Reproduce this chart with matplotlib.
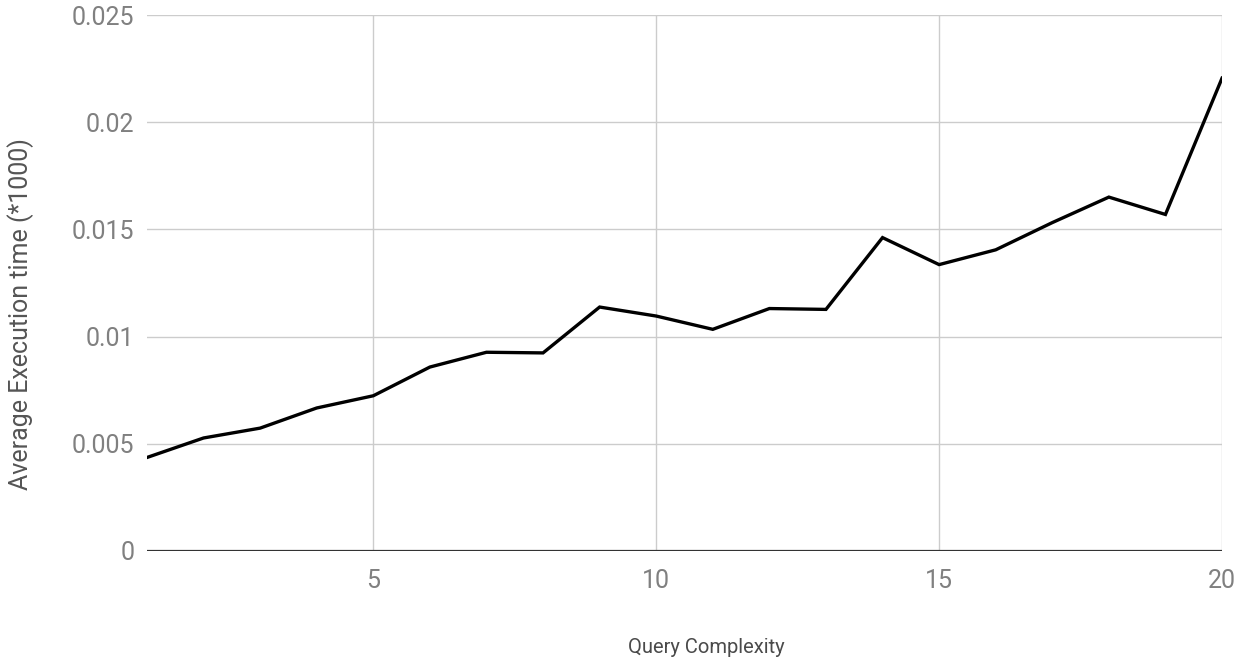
import matplotlib
matplotlib.use("Agg")
import matplotlib.pyplot as plt

# Average execution time per query complexity level
complexity = list(range(1, 21))
avg_time = [0.00436, 0.00527, 0.00573, 0.00667, 0.00724, 0.00858, 0.00927, 0.00924,
            0.01138, 0.01096, 0.01034, 0.01131, 0.01127, 0.01462, 0.01336,
            0.01405, 0.01532, 0.01651, 0.01570, 0.02206]

x_ticks = [5, 10, 15, 20]
y_ticks = [0, 0.005, 0.01, 0.015, 0.02, 0.025]
y_tick_labels = ["0", "0.005", "0.01", "0.015", "0.02", "0.025"]

plt.rcParams["font.family"] = ["Roboto", "DejaVu Sans"]

fig = plt.figure(figsize=(12.35, 6.59), dpi=100)
ax = fig.add_axes([0.119, 0.164, 0.8705, 0.813])

ax.plot(complexity, avg_time, color="#000000", linewidth=2.4, solid_joinstyle="miter", zorder=3)

ax.set_xlim(1, 20)
ax.set_ylim(0, 0.025)
ax.set_xticks(x_ticks)
ax.set_yticks(y_ticks)
ax.set_yticklabels(y_tick_labels)

ax.grid(True, color="#cccccc", linewidth=1.0, zorder=0)
ax.axhline(0, color="#333333", linewidth=1.6, zorder=2)

for side in ["top", "right", "left", "bottom"]:
    ax.spines[side].set_visible(False)

ax.tick_params(axis="both", length=0, labelsize=18, colors="#808080")
ax.tick_params(axis="y", pad=9)
ax.tick_params(axis="x", pad=13)

ax.set_xlabel("Query Complexity", fontsize=14.5, color="#4a4a4a", va="center")
ax.set_ylabel("Average Execution time (*1000)", fontsize=18, color="#555555", va="center")
ax.xaxis.set_label_coords(0.52, -0.18)
ax.yaxis.set_label_coords(-0.1172, 0.442)

fig.savefig("out.png", dpi=100, facecolor="white")
